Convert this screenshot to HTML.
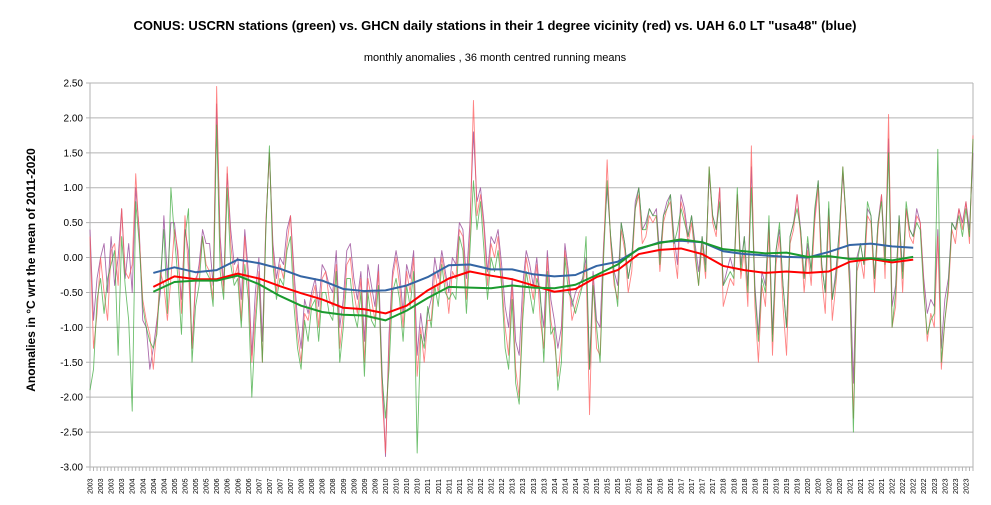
<!DOCTYPE html>
<html><head><meta charset="utf-8"><style>
html,body{margin:0;padding:0;background:#fff;}
svg{display:block;font-family:"Liberation Sans",sans-serif;}
</style></head><body>
<svg id="chart" width="991" height="505" viewBox="0 0 991 505">
<text x="495" y="30" text-anchor="middle" font-size="13" font-weight="bold">CONUS: USCRN stations (green) vs. GHCN daily stations in their 1 degree vicinity (red) vs. UAH 6.0 LT "usa48" (blue)</text>
<text x="495" y="61" text-anchor="middle" font-size="11">monthly anomalies , 36 month centred running means</text>
<text transform="translate(35,270) rotate(-90)" text-anchor="middle" font-size="12" font-weight="bold">Anomalies in °C wrt the mean of 2011-2020</text>
<g id="grid"></g>
<g id="yticks"></g>
<g id="xticks"></g>
<g id="series"></g>
</svg>
<script>
const yTickValues=[2.5,2,1.5,1,0.5,0,-0.5,-1,-1.5,-2,-2.5,-3];
const startYear=2003;
const ghcnMonthly=[0.3,-1.3,-0.8,0.0,-0.5,-0.9,0.1,0.2,-0.4,0.7,-0.2,-0.3,
-0.1,1.2,0.3,-0.6,-0.9,-1.1,-1.6,-1.0,-0.2,-0.4,-0.9,-0.3,
0.4,0.1,-0.8,0.6,-0.2,-1.3,-0.3,-0.2,0.3,-0.1,-0.2,-0.6,
2.45,0.1,-0.5,1.3,0.2,-0.3,-0.1,-0.9,0.3,-0.4,-1.5,-0.8,
-0.2,-1.5,0.5,1.5,0.1,-0.5,-0.1,-0.3,0.2,0.6,-0.4,-1.1,
-1.5,-0.8,-0.9,-0.6,-0.4,-1.0,-0.3,-0.2,-0.6,-0.7,-0.1,-1.3,
-0.8,-0.1,0.0,-0.5,-0.8,-0.3,-1.5,-0.3,-0.6,-0.9,-0.2,-1.9,
-2.8,-1.3,-0.3,0.0,-0.4,-1.0,-0.2,-0.5,0.0,-1.7,-1.0,-1.5,
-0.9,-0.9,-0.2,-0.5,0.0,-0.3,-0.8,-0.2,-0.3,0.4,0.3,-0.6,
0.3,2.25,0.6,0.9,0.4,-0.4,0.2,0.0,0.3,-0.3,-1.0,-1.4,
-0.4,-1.6,-2.0,-0.7,0.0,-0.3,-0.6,-0.1,-0.9,-1.3,0.0,-0.9,
-1.2,-1.7,-1.2,0.1,-0.3,-0.9,-0.7,-0.5,-0.4,-0.1,-2.25,-0.3,
-1.3,-1.4,0.1,1.4,0.2,-0.4,-0.6,0.4,0.1,-0.5,-0.2,0.7,
0.9,0.2,0.3,0.6,0.5,0.6,-0.2,0.5,0.7,0.8,0.1,-0.3,
0.8,0.6,0.2,0.5,0.0,-0.4,0.2,-0.3,1.3,0.5,0.3,1.0,
-0.7,-0.5,-0.3,-0.4,0.9,-0.3,0.1,-0.7,1.6,-0.7,-1.5,-0.4,
-0.7,0.4,-1.4,-0.1,0.3,-0.7,-1.4,0.2,0.4,0.9,0.3,-0.5,
0.1,-0.4,0.5,1.0,-0.3,-0.8,0.6,-0.9,-0.4,0.2,1.3,0.4,
-0.5,-2.3,-0.2,0.0,-0.3,0.6,0.5,-0.5,0.4,0.9,-0.3,2.05,
-1.0,-0.7,0.5,-0.5,0.7,0.3,0.2,0.6,0.5,-0.4,-1.2,-0.8,
-1.0,0.3,-1.6,-0.9,-0.5,0.4,0.2,0.7,0.4,0.8,0.2,1.75];
const uscrnMonthly=[-1.9,-1.6,-0.6,-0.3,-0.8,-0.3,-0.1,0.1,-1.4,0.3,-0.4,-0.9,
-2.2,0.8,0.2,-0.7,-1.0,-1.2,-1.3,-1.1,-0.3,0.4,-0.8,1.0,
0.3,-0.3,-1.1,0.3,0.7,-1.5,-0.7,-0.4,0.3,-0.2,-0.3,-0.7,
1.9,-0.2,-0.6,1.0,-0.1,-0.4,-0.3,-1.0,-0.1,-0.6,-2.0,-1.0,
-0.3,-1.5,0.4,1.6,-0.1,-0.6,-0.3,-0.4,0.1,0.3,-0.7,-1.3,
-1.6,-0.9,-1.2,-0.7,-0.6,-1.2,-0.5,-0.5,-0.8,-0.9,-0.2,-1.5,
-1.0,-0.3,-0.3,-0.8,-1.0,-0.5,-1.7,-0.5,-0.9,-1.0,-0.4,-1.7,
-2.3,-1.6,-0.5,-0.3,-0.6,-1.2,-0.4,-0.7,-0.2,-2.8,-1.1,-1.3,
-0.7,-1.0,-0.4,-0.7,-0.1,-0.5,-0.6,-0.5,-0.6,0.3,0.1,-0.8,
0.1,1.1,0.4,0.8,0.1,-0.6,0.0,-0.2,0.1,-0.4,-1.3,-1.6,
-0.6,-1.8,-2.1,-0.9,-0.2,-0.5,-0.8,-0.3,-0.5,-1.5,-0.2,-1.1,
-1.0,-1.9,-1.5,0.0,-0.5,-0.6,-0.8,-0.6,-0.4,0.3,-1.6,-0.4,
-1.0,-1.5,0.0,1.1,0.3,-0.3,-0.7,0.5,0.2,-0.3,0.0,0.7,
1.0,0.4,0.4,0.7,0.6,0.6,-0.1,0.6,0.7,0.9,0.2,0.4,
0.7,0.5,0.3,0.6,0.1,-0.4,0.3,-0.2,1.3,0.6,0.4,0.8,
-0.4,-0.3,-0.2,-0.3,1.0,-0.2,0.3,-0.5,1.0,-0.5,-1.2,-0.3,
-0.5,0.6,-1.2,0.1,0.5,-0.4,-1.0,0.3,0.5,0.7,0.4,-0.3,
0.3,-0.2,0.7,1.1,-0.1,-0.5,0.8,-0.6,-0.3,0.4,1.3,0.5,
-0.4,-2.5,-0.1,0.2,-0.1,0.8,0.6,-0.3,0.5,0.8,-0.1,1.5,
-1.0,-0.5,0.6,-0.3,0.8,0.4,0.3,0.5,0.4,-0.5,-1.1,-0.9,
-0.8,1.55,-1.5,-0.9,-0.4,0.5,0.4,0.6,0.3,0.7,0.3,1.7];
const uahMonthly=[0.4,-0.9,-0.3,0.0,0.2,-0.5,0.3,-0.4,0.0,0.7,-0.3,0.2,
-0.5,1.0,0.4,-0.9,-1.0,-1.6,-1.3,-0.9,-0.5,0.6,-0.3,0.5,
0.5,0.0,-0.6,0.4,0.1,-1.3,-0.4,-0.1,0.4,0.2,0.2,-0.4,
2.2,0.3,-0.4,1.2,0.4,-0.1,0.0,-0.6,0.4,-0.2,-1.4,-0.5,
0.0,-1.2,0.5,1.5,0.2,-0.3,0.0,-0.1,0.4,0.6,-0.2,-0.9,
-1.3,-0.6,-0.8,-0.5,-0.3,-0.7,-0.1,-0.2,-0.4,-0.5,0.1,-1.0,
-0.6,0.1,0.2,-0.3,-0.6,-0.2,-1.2,-0.1,-0.4,-0.7,-0.1,-1.6,
-2.85,-1.1,-0.2,0.1,-0.2,-0.8,-0.1,-0.3,0.1,-1.4,-0.8,-1.2,
-0.8,-0.6,0.0,-0.3,0.1,-0.2,-0.5,0.0,-0.1,0.5,0.4,-0.3,
0.5,1.8,0.8,1.0,0.5,-0.2,0.3,0.2,0.4,-0.1,-0.7,-1.0,
-0.3,-1.2,-1.4,-0.4,0.1,-0.1,-0.4,0.0,-0.6,-1.0,0.1,-0.6,
-0.9,-1.3,-1.0,0.2,-0.2,-0.7,-0.5,-0.4,-0.3,0.0,-1.6,-0.2,
-0.9,-1.0,0.2,1.0,0.3,-0.2,-0.4,0.5,0.2,-0.3,0.0,0.8,
1.0,0.4,0.5,0.7,0.6,0.7,0.0,0.6,0.8,0.9,0.3,-0.1,
0.9,0.7,0.3,0.6,0.2,-0.2,0.3,-0.1,1.2,0.6,0.4,1.0,
-0.4,-0.2,0.0,-0.2,0.9,-0.1,0.3,-0.4,1.3,-0.4,-1.1,-0.2,
-0.4,0.5,-1.1,0.1,0.4,-0.4,-1.0,0.3,0.5,0.9,0.4,-0.3,
0.2,-0.2,0.6,1.1,-0.1,-0.5,0.7,-0.6,-0.2,0.4,1.2,0.5,
-0.2,-1.8,0.0,0.2,-0.1,0.7,0.6,-0.3,0.5,0.9,0.0,1.7,
-0.7,-0.4,0.6,-0.2,0.7,0.4,0.3,0.7,0.5,-0.3,-0.8,-0.6,
-0.7,0.4,-1.3,-0.6,-0.3,0.5,0.4,0.7,0.5,0.8,0.4,1.5];
const smoothYears=[2004.5,2005,2005.5,2006,2006.5,2007,2007.5,2008,2008.5,2009,2009.5,2010,2010.5,2011,2011.5,2012,2012.5,2013,2013.5,2014,2014.5,2015,2015.5,2016,2016.5,2017,2017.5,2018,2018.5,2019,2019.5,2020,2020.5,2021,2021.5,2022,2022.5];
const uahMean=[-0.22,-0.14,-0.21,-0.18,-0.03,-0.08,-0.16,-0.27,-0.33,-0.45,-0.48,-0.47,-0.40,-0.28,-0.11,-0.10,-0.17,-0.17,-0.24,-0.27,-0.25,-0.12,-0.06,0.12,0.22,0.24,0.22,0.09,0.05,0.03,0.01,0.0,0.08,0.18,0.20,0.16,0.14];
const ghcnMean=[-0.42,-0.27,-0.31,-0.31,-0.23,-0.30,-0.41,-0.51,-0.60,-0.72,-0.74,-0.80,-0.69,-0.47,-0.30,-0.20,-0.26,-0.31,-0.40,-0.49,-0.45,-0.28,-0.18,0.05,0.11,0.13,0.05,-0.12,-0.18,-0.22,-0.20,-0.22,-0.20,-0.06,-0.02,-0.07,-0.03];
const uscrnMean=[-0.49,-0.35,-0.33,-0.33,-0.26,-0.38,-0.55,-0.69,-0.78,-0.82,-0.83,-0.90,-0.76,-0.58,-0.42,-0.43,-0.44,-0.40,-0.43,-0.44,-0.39,-0.25,-0.10,0.13,0.21,0.26,0.22,0.12,0.09,0.06,0.07,0.01,0.02,-0.02,-0.01,-0.04,0.01];

const NS='http://www.w3.org/2000/svg';
const L=90,R=973,T=83,B=467,yMax=2.5,yMin=-3;
const nMonths=ghcnMonthly.length;
const step=(R-L)/(nMonths-1);
function yS(v){return T+(yMax-v)/(yMax-yMin)*(B-T);}
function xM(i){return L+i*step;}
function xY(t){return L+(t-startYear)*12*step;}
function mk(tag,attrs,parent){const e=document.createElementNS(NS,tag);for(const k in attrs)e.setAttribute(k,attrs[k]);parent.appendChild(e);return e;}

const grid=document.getElementById('grid');
const yt=document.getElementById('yticks');
yTickValues.forEach(v=>{
  const ln=mk('line',{x1:L-4,x2:R,y1:yS(v),y2:yS(v),stroke:'#b3b3b3','stroke-width':1},grid);
  
  
  const tx=mk('text',{x:L-7,y:yS(v)+3.5,'text-anchor':'end','font-size':10,fill:'#000'},yt);
  tx.textContent=v.toFixed(2);
  
  
});
const ax=mk('line',{x1:L,x2:L,y1:T,y2:B,stroke:'#b3b3b3'},grid);


const rb=mk('line',{x1:R,x2:R,y1:T,y2:B,stroke:'#b3b3b3'},grid);



const xt=document.getElementById('xticks');
for(let i=0;i<nMonths;i++){
  const tk=mk('line',{x1:xM(i),x2:xM(i),y1:B,y2:B+4,stroke:'#b3b3b3'},xt);
  
  
  if(i%3===0){
    const yr=startYear+Math.floor(i/12);
    const tx=mk('text',{transform:`translate(${xM(i)+2.5},${B+27}) rotate(-90)`,'font-size':7,fill:'#000'},xt);
    tx.textContent=yr;
    
    
  }
}

const sg=document.getElementById('series');
function monthlyLine(arr,color,name){
  const d=arr.map((v,i)=>(i?'L':'M')+xM(i).toFixed(2)+','+yS(v).toFixed(2)).join('');
  const p=mk('path',{d:d,fill:'none',stroke:color,'stroke-width':0.9,'stroke-linejoin':'round'},sg);
  
  
}
function meanLine(arr,color,name){
  const d=arr.map((v,i)=>(i?'L':'M')+xY(smoothYears[i]).toFixed(2)+','+yS(v).toFixed(2)).join('');
  const p=mk('path',{d:d,fill:'none',stroke:color,'stroke-width':2,'stroke-linejoin':'round'},sg);
  
  
}
monthlyLine(uahMonthly,'rgba(150,70,150,0.8)','uah-monthly-line');
monthlyLine(ghcnMonthly,'rgba(255,90,90,0.75)','ghcn-monthly-line');
monthlyLine(uscrnMonthly,'rgba(60,170,60,0.75)','uscrn-monthly-line');
meanLine(uahMean,'#3465a4','uah-running-mean');
meanLine(ghcnMean,'#ff0000','ghcn-running-mean');
meanLine(uscrnMean,'#1a9a2e','uscrn-running-mean');
</script>
</body></html>
